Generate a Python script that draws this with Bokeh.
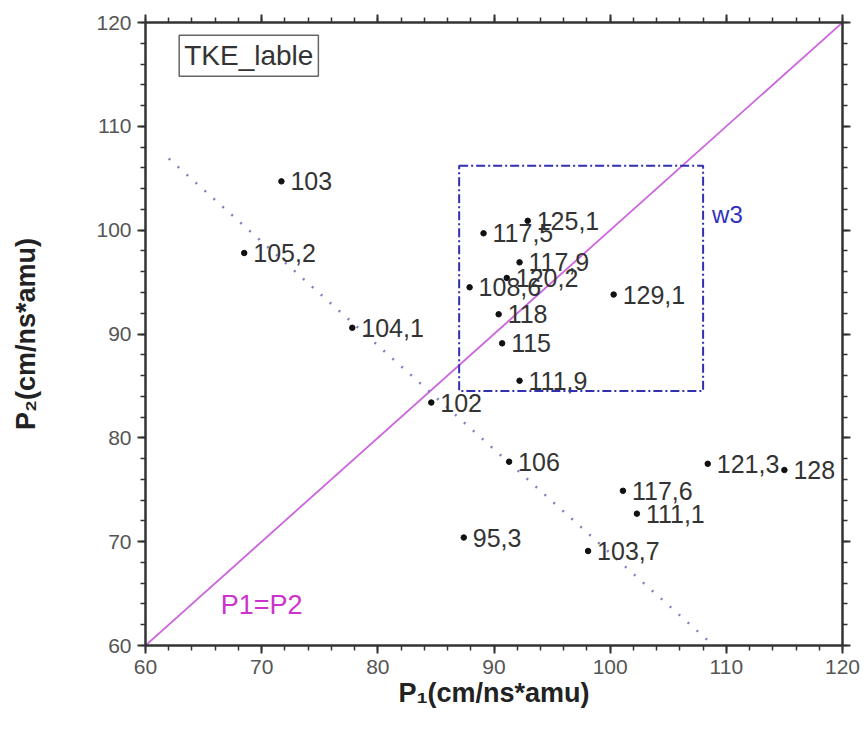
from bokeh.plotting import figure
from bokeh.models import (ColumnDataSource, LinearAxis, Range1d, Label, BoxAnnotation,
                          FixedTicker, CustomJSTickFormatter)
from bokeh.core.properties import value
from bokeh.embed import file_html
from bokeh.resources import INLINE

# Momentum pairs (P1, P2) of fragments and their TKE tags
p1_vals = [71.7, 68.5, 77.8, 84.6, 91.3, 87.4, 98.1, 101.1, 102.3, 108.4, 115.0,
           92.9, 89.1, 92.2, 91.1, 87.9, 100.3, 90.4, 90.7, 92.2]
p2_vals = [104.7, 97.8, 90.6, 83.4, 77.7, 70.4, 69.1, 74.9, 72.7, 77.5, 76.9,
           100.9, 99.7, 96.9, 95.4, 94.5, 93.8, 91.9, 89.1, 85.5]
tke_labels = ["103", "105,2", "104,1", "102", "106", "95,3", "103,7", "117,6", "111,1",
              "121,3", "128", "125,1", "117,5", "117,9", "120,2", "108,6", "129,1",
              "118", "115", "111,9"]

# Equal-momentum diagonal and the anti-diagonal guide
diag_x = [60, 120]
diag_y = [60, 120]
anti_x = [62.0, 108.9]
anti_y = [106.9, 60.0]

# w3 window limits
w3_left, w3_right = 87.0, 108.0
w3_bottom, w3_top = 84.5, 106.2

FONT = "Liberation Sans"
AXIS_COLOR = "#333333"

p = figure(width=864, height=748, output_backend="svg", toolbar_location=None,
           x_range=Range1d(60, 120), y_range=Range1d(60, 120),
           min_border_left=145, min_border_right=22, min_border_top=22,
           min_border_bottom=103, x_axis_location=None, y_axis_location=None)
p.grid.visible = False
p.outline_line_color = None
p.background_fill_color = "white"
p.border_fill_color = "white"

major = FixedTicker(ticks=[60, 70, 80, 90, 100, 110, 120],
                    minor_ticks=list(range(60, 121, 2)))


def style_axis(ax, labels=True):
    ax.ticker = major
    ax.axis_line_width = 2.5
    ax.axis_line_color = AXIS_COLOR
    ax.major_tick_line_color = AXIS_COLOR
    ax.minor_tick_line_color = AXIS_COLOR
    ax.major_tick_line_width = 2
    ax.minor_tick_line_width = 1.5
    ax.major_tick_out = 8
    ax.major_tick_in = 0
    ax.minor_tick_out = 5
    ax.minor_tick_in = 0
    ax.major_label_text_font = FONT
    ax.major_label_text_font_size = "21px"
    ax.major_label_text_color = "#555555"
    ax.major_label_standoff = 6
    if not labels:
        # frame-only axis: ticks without numbers
        ax.formatter = CustomJSTickFormatter(code="return '';")
        ax.major_label_standoff = 0


xb = LinearAxis(axis_label="P\u2081(cm/ns*amu)")
style_axis(xb)
xb.axis_label_text_font = FONT
xb.axis_label_text_font_size = "27px"
xb.axis_label_text_font_style = "bold"
xb.axis_label_text_color = "#222222"
xb.axis_label_standoff = 1
p.add_layout(xb, "below")

yl = LinearAxis(axis_label="P\u2082(cm/ns*amu)")
style_axis(yl)
yl.axis_label_text_font = FONT
yl.axis_label_text_font_size = "27px"
yl.axis_label_text_font_style = "bold"
yl.axis_label_text_color = "#222222"
yl.axis_label_standoff = 52
p.add_layout(yl, "left")

xt = LinearAxis()
style_axis(xt, labels=False)
p.add_layout(xt, "above")

yr = LinearAxis()
style_axis(yr, labels=False)
p.add_layout(yr, "right")

# Guide lines
p.line(diag_x, diag_y, line_color="#cc66dd", line_width=1.8)
p.line(anti_x, anti_y, line_color="#8080c0", line_width=2.5, line_dash="2 10")

# w3 window
p.add_layout(BoxAnnotation(left=w3_left, right=w3_right, bottom=w3_bottom, top=w3_top,
                           fill_color=None, fill_alpha=0, line_color="#3030b0",
                           line_alpha=1.0, line_width=2, line_dash="9 3 2 3"))
p.add_layout(Label(x=w3_right, y=101.5, x_offset=9, text="w3", text_font=FONT,
                   text_font_size="24px", text_color="#3030c0", text_baseline="middle"))

p.add_layout(Label(x=70.0, y=63.9, text="P1=P2", text_font=FONT, text_font_size="27px",
                   text_color="#cc33cc", text_align="center", text_baseline="middle"))

# Title tag box
p.add_layout(Label(x=62.9, y=116.8, text="TKE_lable", text_font=FONT,
                   text_font_size="28px", text_color="#333333", text_baseline="middle",
                   border_line_color="#666666", border_line_width=1.5,
                   background_fill_color="white", padding=5))

src = ColumnDataSource(data=dict(x=p1_vals, y=p2_vals, label=tke_labels))
p.scatter("x", "y", source=src, size=5.5, color="#111111")
p.text("x", "y", text="label", source=src, x_offset=9, text_baseline="middle",
       text_font=value(FONT), text_font_size="25px", text_color="#333333")

open("out.html", "w").write(file_html(p, INLINE))
